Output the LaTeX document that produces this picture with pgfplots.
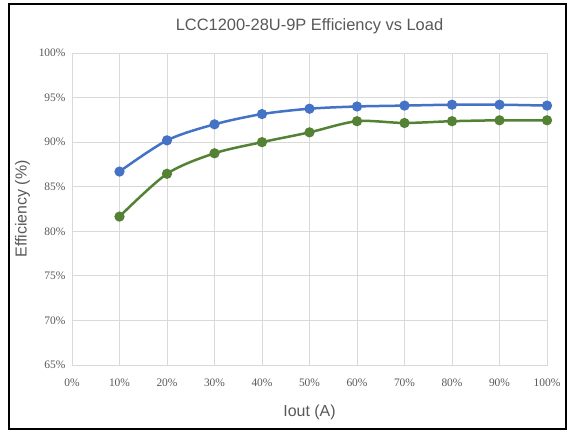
\documentclass[border=0pt]{standalone}
\usepackage{fontspec}
\setmainfont{Liberation Serif}
\newfontfamily\labfont{Liberation Sans}
\usepackage{pgfplots}
\pgfplotsset{compat=1.18}
\definecolor{eblue}{HTML}{4472C4}
\definecolor{egreen}{HTML}{548235}
\definecolor{txtgray}{HTML}{595959}
\definecolor{gridgray}{HTML}{D9D9D9}
\begin{document}
\begin{tikzpicture}[x=1bp,y=1bp]
\path[use as bounding box] (0,0) rectangle (573,431);
\fill[white] (0,0) rectangle (573,431);
\draw[black,line width=1.6bp] (9,2) rectangle (566,427);
\begin{axis}[
  at={(72bp,66bp)}, anchor=south west,
  scale only axis, width=475bp, height=312bp,
  xmin=0, xmax=100, ymin=65, ymax=100,
  xtick={0,10,...,100}, ytick={65,70,...,100},
  xticklabel={\pgfmathprintnumber{\tick}\%},
  yticklabel={\pgfmathprintnumber{\tick}\%},
  /pgf/number format/assume math mode=true,
  tick label style={font=\fontsize{11.5}{13}\selectfont, text=txtgray},
  xticklabel style={yshift=-10bp},
  yticklabel style={xshift=-3bp},
  grid=major, major grid style={gridgray, line width=0.9bp},
  axis line style={gridgray, line width=0.9bp},
  tick style={draw=none},
  title={\labfont LCC1200-28U-9P Efficiency vs Load},
  title style={font=\fontsize{16.5}{19}\selectfont, text=txtgray, yshift=10bp},
  xlabel={\labfont Iout (A)},
  ylabel={\labfont Efficiency (\%)},
  label style={font=\fontsize{16}{19}\selectfont, text=txtgray},
  xlabel style={yshift=-12bp},
  ylabel style={yshift=2bp},
]
\addplot[eblue, line width=2.5bp, smooth, tension=0.5, mark=*, mark size=3.8bp, mark options={fill=eblue, draw=eblue}]
 coordinates {(10,86.7) (20,90.2) (30,92.0) (40,93.15) (50,93.75) (60,94.0) (70,94.1) (80,94.2) (90,94.2) (100,94.1)};
\addplot[egreen, line width=2.5bp, smooth, tension=0.5, mark=*, mark size=3.8bp, mark options={fill=egreen, draw=egreen}]
 coordinates {(10,81.65) (20,86.45) (30,88.75) (40,90.0) (50,91.1) (60,92.35) (70,92.15) (80,92.35) (90,92.45) (100,92.45)};
\end{axis}
\end{tikzpicture}
\end{document}
